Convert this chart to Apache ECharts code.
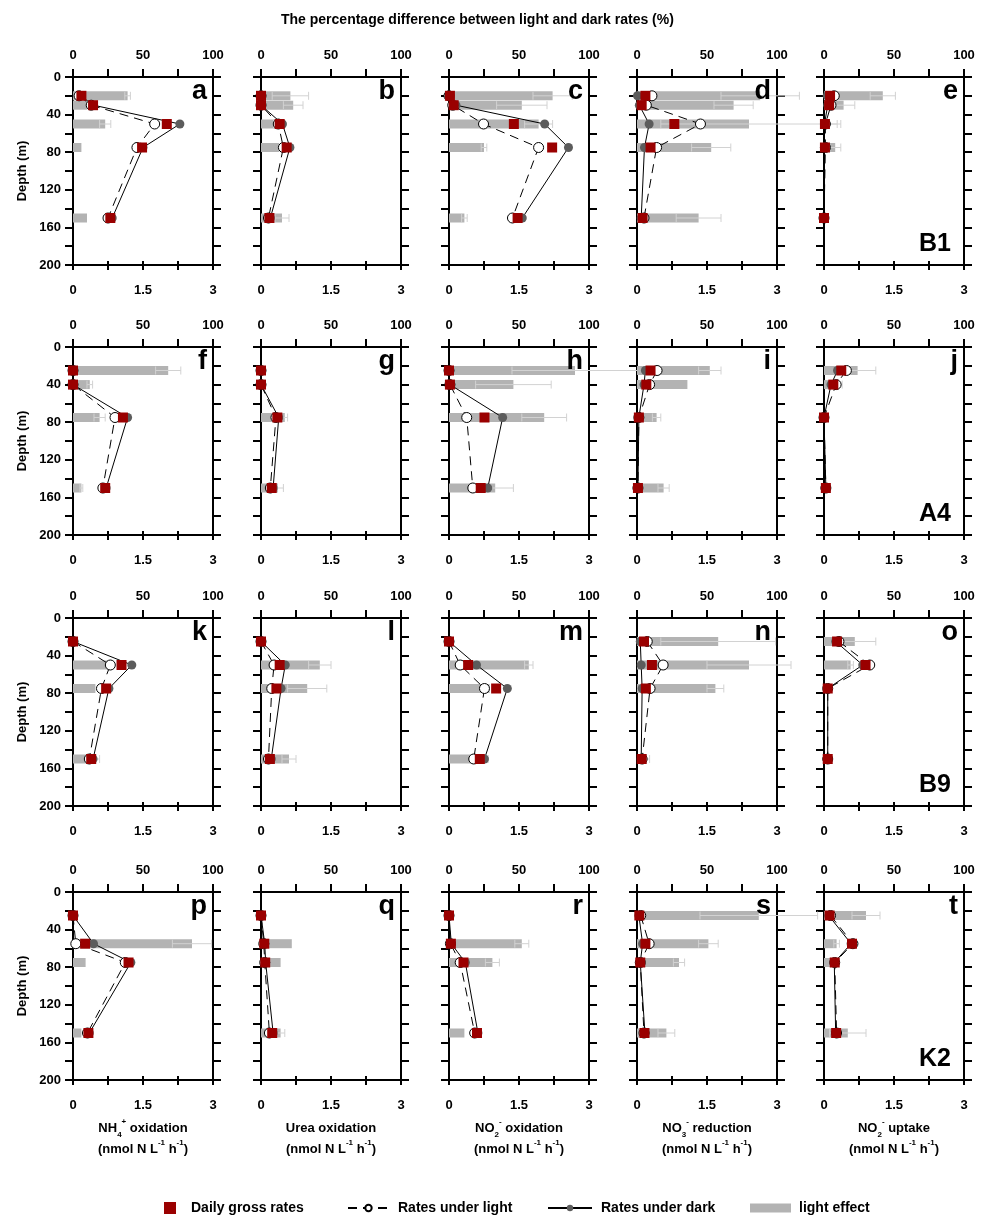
<!DOCTYPE html>
<html>
<head>
<meta charset="utf-8">
<script src="https://cdn.jsdelivr.net/npm/echarts/dist/echarts.min.js"></script>
<style>html,body{margin:0;padding:0;background:#fff}#chart{width:982px;height:1218px}</style>
</head>
<body>
<div id="chart"></div>
<script>
// ---------------- DATA ----------------
const stations = ['B1', 'A4', 'B9', 'K2'];
const panelLetters = [
  ['a', 'b', 'c', 'd', 'e'],
  ['f', 'g', 'h', 'i', 'j'],
  ['k', 'l', 'm', 'n', 'o'],
  ['p', 'q', 'r', 's', 't']
];
const depthB1 = [20, 30, 50, 75, 150];
const depthA4 = [25, 40, 75, 150];
const depthB9 = [25, 50, 75, 150];
const depthK2 = [25, 55, 75, 150];

const depthTickLabels = [0, 40, 80, 120, 160, 200];
const rateTickLabels = [0, 1.5, 3];
const pctTickLabels = [0, 50, 100];

// B1
const a_gross = [0.18, 0.43, 2.01, 1.48, 0.80];
const a_light = [0.13, 0.39, 1.75, 1.37, 0.75];
const a_dark = [0.16, 0.44, 2.29, 1.50, 0.84];
const a_effect = [39, 10, 23, 6, 10];
const a_effectErr = [2, 0, 4, 0, 0];

const b_gross = [0, 0, 0.40, 0.55, 0.18];
const b_light = [0, 0, 0.37, 0.48, 0.16];
const b_dark = [0, 0, 0.46, 0.62, 0.20];
const b_effect = [21, 23, 12, 13, 15];
const b_effectErr = [13, 7, 3, 0, 5];

const c_gross = [0.02, 0.10, 1.39, 2.21, 1.47];
const c_light = [0.0, 0.08, 0.74, 1.92, 1.36];
const c_dark = [0.0, 0.15, 2.05, 2.56, 1.57];
const c_effect = [74, 52, 64, 25, 11];
const c_effectErr = [14, 18, 10, 2, 2];

const d_gross = [0.18, 0.10, 0.80, 0.29, 0.12];
const d_light = [0.32, 0.20, 1.36, 0.42, 0.15];
const d_dark = [0.01, 0.05, 0.26, 0.16, 0.09];
const d_effect = [88, 69, 80, 53, 44];
const d_effectErr = [28, 14, 63, 14, 16];

const e_gross = [0.13, 0.11, 0.02, 0.02, 0.0];
const e_light = [0.22, 0.15, 0.03, 0.03, 0.0];
const e_dark = [0.07, 0.08, 0.01, 0.01, 0.0];
const e_effect = [42, 14, 4, 8, 0];
const e_effectErr = [9, 8, 8, 4, 0];

// A4
const f_gross = [0, 0, 1.07, 0.69];
const f_light = [0, 0, 0.90, 0.64];
const f_dark = [0, 0, 1.17, 0.71];
const f_effect = [68, 12, 19, 6];
const f_effectErr = [9, 2, 4, 1];

const g_gross = [0, 0, 0.35, 0.23];
const g_light = [0, 0, 0.32, 0.20];
const g_dark = [0, 0, 0.38, 0.26];
const g_effect = [0, 0, 17, 12];
const g_effectErr = [0, 0, 2, 4];

const h_gross = [0, 0.02, 0.76, 0.68];
const h_light = [0, 0.02, 0.38, 0.51];
const h_dark = [0, 0.02, 1.15, 0.83];
const h_effect = [90, 46, 68, 33];
const h_effectErr = [45, 27, 16, 13];

const i_gross = [0.29, 0.20, 0.04, 0.02];
const i_light = [0.43, 0.27, 0.04, 0.02];
const i_dark = [0.18, 0.15, 0.04, 0.02];
const i_effect = [52, 36, 14, 19];
const i_effectErr = [8, 0, 3, 4];

const j_gross = [0.37, 0.20, 0.0, 0.04];
const j_light = [0.48, 0.26, 0.0, 0.04];
const j_dark = [0.29, 0.15, 0.0, 0.04];
const j_effect = [24, 10, 0, 0];
const j_effectErr = [13, 3, 0, 0];

// B9
const k_gross = [0, 1.04, 0.71, 0.39];
const k_light = [0, 0.80, 0.61, 0.35];
const k_dark = [0, 1.26, 0.77, 0.43];
const k_effect = [0, 25, 16, 16];
const k_effectErr = [0, 0, 0, 3];

const l_gross = [0, 0.40, 0.33, 0.19];
const l_light = [0, 0.28, 0.23, 0.16];
const l_dark = [0, 0.52, 0.43, 0.22];
const l_effect = [0, 42, 33, 20];
const l_effectErr = [0, 8, 14, 5];

const m_gross = [0, 0.41, 1.01, 0.66];
const m_light = [0, 0.24, 0.76, 0.53];
const m_dark = [0, 0.59, 1.25, 0.76];
const m_effect = [0, 57, 29, 25];
const m_effectErr = [0, 3, 0, 3];

const n_gross = [0.15, 0.32, 0.19, 0.10];
const n_light = [0.22, 0.56, 0.28, 0.11];
const n_dark = [0.07, 0.09, 0.11, 0.09];
const n_effect = [58, 80, 56, 7];
const n_effectErr = [41, 30, 6, 2];

const o_gross = [0.28, 0.89, 0.08, 0.08];
const o_light = [0.32, 0.98, 0.08, 0.08];
const o_dark = [0.25, 0.83, 0.08, 0.08];
const o_effect = [22, 19, 0, 0];
const o_effectErr = [15, 2, 0, 0];

// K2
const p_gross = [0, 0.26, 1.19, 0.33];
const p_light = [0, 0.06, 1.12, 0.31];
const p_dark = [0, 0.44, 1.24, 0.35];
const p_effect = [0, 85, 9, 6];
const p_effectErr = [0, 14, 0, 0];

const q_gross = [0, 0.07, 0.09, 0.24];
const q_light = [0, 0.06, 0.08, 0.18];
const q_dark = [0, 0.08, 0.10, 0.26];
const q_effect = [0, 22, 14, 14];
const q_effectErr = [0, 0, 0, 3];

const r_gross = [0, 0.04, 0.31, 0.60];
const r_light = [0, 0.03, 0.24, 0.55];
const r_dark = [0, 0.05, 0.35, 0.62];
const r_effect = [0, 52, 31, 11];
const r_effectErr = [0, 5, 5, 0];

const s_gross = [0.05, 0.18, 0.07, 0.16];
const s_light = [0.08, 0.26, 0.07, 0.15];
const s_dark = [0.04, 0.12, 0.07, 0.17];
const s_effect = [87, 51, 30, 21];
const s_effectErr = [42, 7, 4, 6];

const t_gross = [0.12, 0.60, 0.23, 0.26];
const t_light = [0.14, 0.62, 0.23, 0.27];
const t_dark = [0.10, 0.58, 0.22, 0.25];
const t_effect = [30, 9, 4.5, 17];
const t_effectErr = [10, 2, 0, 13];

const rateTitles = [
  '{t|NH}{sub|4}{sup|+}{t| oxidation}\n{t|(nmol N L}{sup|-1}{t| h}{sup|-1}{t|)}',
  '{t|Urea oxidation}\n{t|(nmol N L}{sup|-1}{t| h}{sup|-1}{t|)}',
  '{t|NO}{sub|2}{sup|-}{t| oxidation}\n{t|(nmol N L}{sup|-1}{t| h}{sup|-1}{t|)}',
  '{t|NO}{sub|3}{sup|-}{t| reduction}\n{t|(nmol N L}{sup|-1}{t| h}{sup|-1}{t|)}',
  '{t|NO}{sub|2}{sup|-}{t| uptake}\n{t|(nmol N L}{sup|-1}{t| h}{sup|-1}{t|)}'
];
const mainTitle = 'The percentage difference between light and dark rates (%)';
const depthName = 'Depth (m)';
const seriesNames = ['Daily gross rates', 'Rates under light', 'Rates under dark', 'light effect'];

// ---------------- TABLE BUILT FROM ARRAYS ----------------
const stationDepths = [depthB1, depthA4, depthB9, depthK2];
const panelTable = {
  a: [a_gross, a_light, a_dark, a_effect, a_effectErr],
  b: [b_gross, b_light, b_dark, b_effect, b_effectErr],
  c: [c_gross, c_light, c_dark, c_effect, c_effectErr],
  d: [d_gross, d_light, d_dark, d_effect, d_effectErr],
  e: [e_gross, e_light, e_dark, e_effect, e_effectErr],
  f: [f_gross, f_light, f_dark, f_effect, f_effectErr],
  g: [g_gross, g_light, g_dark, g_effect, g_effectErr],
  h: [h_gross, h_light, h_dark, h_effect, h_effectErr],
  i: [i_gross, i_light, i_dark, i_effect, i_effectErr],
  j: [j_gross, j_light, j_dark, j_effect, j_effectErr],
  k: [k_gross, k_light, k_dark, k_effect, k_effectErr],
  l: [l_gross, l_light, l_dark, l_effect, l_effectErr],
  m: [m_gross, m_light, m_dark, m_effect, m_effectErr],
  n: [n_gross, n_light, n_dark, n_effect, n_effectErr],
  o: [o_gross, o_light, o_dark, o_effect, o_effectErr],
  p: [p_gross, p_light, p_dark, p_effect, p_effectErr],
  q: [q_gross, q_light, q_dark, q_effect, q_effectErr],
  r: [r_gross, r_light, r_dark, r_effect, r_effectErr],
  s: [s_gross, s_light, s_dark, s_effect, s_effectErr],
  t: [t_gross, t_light, t_dark, t_effect, t_effectErr]
};

// ---------------- LAYOUT / STYLE ----------------
const FONT = "'Liberation Sans', Arial, Helvetica, sans-serif";
const W = 982;
const gridLefts = [73, 261, 449, 637, 824];
const gridTops = [77, 347, 618, 892];
const gridWidth = 140;
const gridHeight = 188;
const RED = '#9a0000';
const BAR_GRAY = '#b3b3b3';
const ERR_GRAY = '#d2d2d2';
const DOT_GRAY = '#5c5c5c';
const AX = { color: '#000', width: 2 };
const tickLabelStyle = { color: '#000', fontSize: 13, fontWeight: 'bold', fontFamily: FONT };

function renderEffect(params, api) {
  const v = api.value(0), dep = api.value(1), err = api.value(2);
  const h = 9;
  const children = [];
  const base = api.coord([0, dep]);
  const end = api.coord([v, dep]);
  if (v > 0) {
    children.push({ type: 'rect', shape: { x: base[0], y: base[1] - h / 2, width: end[0] - base[0], height: h }, style: { fill: BAR_GRAY } });
  }
  if (err > 0) {
    const lo = api.coord([Math.max(0, v - err), dep]);
    const hi = api.coord([v + err, dep]);
    children.push({ type: 'line', shape: { x1: lo[0], y1: lo[1], x2: hi[0], y2: hi[1] }, style: { stroke: ERR_GRAY, lineWidth: 1 } });
    children.push({ type: 'line', shape: { x1: hi[0], y1: hi[1] - 4, x2: hi[0], y2: hi[1] + 4 }, style: { stroke: ERR_GRAY, lineWidth: 1 } });
    if (v - err > 0) children.push({ type: 'line', shape: { x1: lo[0], y1: lo[1] - 4, x2: lo[0], y2: lo[1] + 4 }, style: { stroke: ERR_GRAY, lineWidth: 1 } });
  }
  return { type: 'group', children };
}

const option = {
  animation: false,
  backgroundColor: '#fff',
  textStyle: { fontFamily: FONT },
  title: [],
  legend: [],
  grid: [],
  xAxis: [],
  yAxis: [],
  series: []
};

option.title.push({
  text: mainTitle, left: 281, top: 13, padding: 0,
  textStyle: { fontSize: 14, fontWeight: 'bold', color: '#000', fontFamily: FONT }
});

panelLetters.forEach((row, r) => {
  const depth = stationDepths[r];
  row.forEach((letter, c) => {
    const g = r * 5 + c;
    const [gross, light, dark, effect, effectErr] = panelTable[letter];
    option.grid.push({ left: gridLefts[c], top: gridTops[r], width: gridWidth, height: gridHeight, containLabel: false, outerBoundsMode: 'none', show: false });

    // x axes: bottom rate (3g), bottom inner ticks (3g+1), top percent (3g+2)
    option.xAxis.push({
      type: 'value', gridIndex: g, position: 'bottom', min: 0, max: 3, interval: 0.75,
      axisLine: { onZero: false, lineStyle: AX },
      axisTick: { length: 5, lineStyle: AX },
      axisLabel: Object.assign({ margin: 19, formatter: v => rateTickLabels.includes(v) ? String(v) : '' }, tickLabelStyle),
      splitLine: { show: false },
      name: r === 3 ? rateTitles[c] : '',
      nameLocation: 'middle', nameGap: 38,
      nameTextStyle: {
        color: '#000', fontFamily: FONT, fontWeight: 'bold', fontSize: 13, lineHeight: 21, align: 'center',
        rich: {
          t: { fontSize: 13, fontWeight: 'bold', fontFamily: FONT, color: '#000', lineHeight: 21 },
          sub: { fontSize: 8, fontWeight: 'bold', fontFamily: FONT, color: '#000', lineHeight: 12, verticalAlign: 'bottom' },
          sup: { fontSize: 8, fontWeight: 'bold', fontFamily: FONT, color: '#000', lineHeight: 12, verticalAlign: 'top' }
        }
      }
    });
    option.xAxis.push({
      type: 'value', gridIndex: g, position: 'bottom', min: 0, max: 3, interval: 0.75,
      axisLine: { show: false, onZero: false },
      axisTick: { inside: true, length: 4, lineStyle: AX },
      axisLabel: { show: false }, splitLine: { show: false }
    });
    option.xAxis.push({
      type: 'value', gridIndex: g, position: 'top', min: 0, max: 100, interval: 25,
      axisLine: { onZero: false, lineStyle: AX },
      axisTick: { length: 8, lineStyle: AX },
      axisLabel: Object.assign({ margin: 15, formatter: v => pctTickLabels.includes(v) ? String(v) : '' }, tickLabelStyle),
      splitLine: { show: false }
    });

    // y axes: left depth (2g), right mirror (2g+1)
    option.yAxis.push({
      type: 'value', gridIndex: g, position: 'left', inverse: true, min: 0, max: 200, interval: 20,
      axisLine: { onZero: false, lineStyle: AX },
      axisTick: { length: 8, lineStyle: AX },
      axisLabel: Object.assign({ show: c === 0, margin: 12, formatter: v => depthTickLabels.includes(v) ? String(v) : '' }, tickLabelStyle),
      splitLine: { show: false },
      name: c === 0 ? depthName : '', nameLocation: 'middle', nameGap: 44,
      nameTextStyle: { color: '#000', fontSize: 13, fontWeight: 'bold', fontFamily: FONT }
    });
    option.yAxis.push({
      type: 'value', gridIndex: g, position: 'right', inverse: true, min: 0, max: 200, interval: 20,
      axisLine: { onZero: false, lineStyle: AX },
      axisTick: { length: 8, lineStyle: AX },
      axisLabel: { show: false }, splitLine: { show: false }
    });

    // light effect bars (top percent axis)
    option.series.push({
      type: 'custom', name: seriesNames[3], xAxisIndex: 3 * g + 2, yAxisIndex: 2 * g,
      renderItem: renderEffect, clip: false, silent: true, z: 1,
      itemStyle: { color: BAR_GRAY },
      encode: { x: 0, y: 1 },
      data: effect.map((v, i) => [v, depth[i], effectErr[i]])
    });
    // rates under dark
    option.series.push({
      type: 'line', name: seriesNames[2], xAxisIndex: 3 * g, yAxisIndex: 2 * g,
      data: dark.map((v, i) => [v, depth[i]]),
      symbol: 'circle', symbolSize: 9, silent: true, z: 3,
      lineStyle: { color: '#000', width: 1, type: 'solid' },
      itemStyle: { color: DOT_GRAY, borderWidth: 0, opacity: 1 }
    });
    // rates under light
    option.series.push({
      type: 'line', name: seriesNames[1], xAxisIndex: 3 * g, yAxisIndex: 2 * g,
      data: light.map((v, i) => [v, depth[i]]),
      symbol: 'circle', symbolSize: 10, silent: true, z: 4,
      lineStyle: { color: '#000', width: 1, type: [9, 6] },
      itemStyle: { color: '#fff', borderColor: '#000', borderWidth: 1, opacity: 1 }
    });
    // daily gross rates
    option.series.push({
      type: 'scatter', name: seriesNames[0], xAxisIndex: 3 * g, yAxisIndex: 2 * g,
      data: gross.map((v, i) => [v, depth[i]]),
      symbol: 'rect', symbolSize: 10, silent: true, z: 5,
      itemStyle: { color: RED, opacity: 1 }
    });

    // panel letter
    option.title.push({
      text: letter, right: W - (gridLefts[c] + gridWidth - 6), top: gridTops[r] + 1, padding: 0,
      textStyle: { fontSize: 27, lineHeight: 27, fontWeight: 'bold', color: '#000', fontFamily: FONT }
    });
    if (c === 4) {
      option.title.push({
        text: stations[r], right: W - (gridLefts[c] + gridWidth - 13), top: gridTops[r] + gridHeight - 33, padding: 0,
        textStyle: { fontSize: 25, lineHeight: 25, fontWeight: 'bold', color: '#000', fontFamily: FONT }
      });
    }
  });
});

const legendText = { color: '#000', fontSize: 14, fontWeight: 'bold', fontFamily: FONT };
option.legend = [
  { data: [{ name: seriesNames[0], icon: 'rect' }], left: 164, top: 1201, itemWidth: 12, itemHeight: 12, padding: 0, selectedMode: false,
    itemStyle: { color: RED, opacity: 1 },
    textStyle: Object.assign({ padding: [0, 0, 0, 10] }, legendText) },
  { data: [seriesNames[1]], left: 347, top: 1201, itemWidth: 41, itemHeight: 8, padding: 0, selectedMode: false,
    textStyle: Object.assign({ padding: [0, 0, 0, 4] }, legendText) },
  { data: [seriesNames[2]], left: 547, top: 1201, itemWidth: 44, itemHeight: 8, padding: 0, selectedMode: false,
    textStyle: Object.assign({ padding: [0, 0, 0, 4] }, legendText) },
  { data: [{ name: seriesNames[3], icon: 'rect' }], left: 750, top: 1201, itemWidth: 41, itemHeight: 9, padding: 0, selectedMode: false,
    itemStyle: { color: BAR_GRAY }, textStyle: Object.assign({ padding: [0, 0, 0, 3] }, legendText) }
];

const chart = echarts.init(document.getElementById('chart'), null, { renderer: 'canvas', width: 982, height: 1218 });
chart.setOption(option);
</script>
</body>
</html>
